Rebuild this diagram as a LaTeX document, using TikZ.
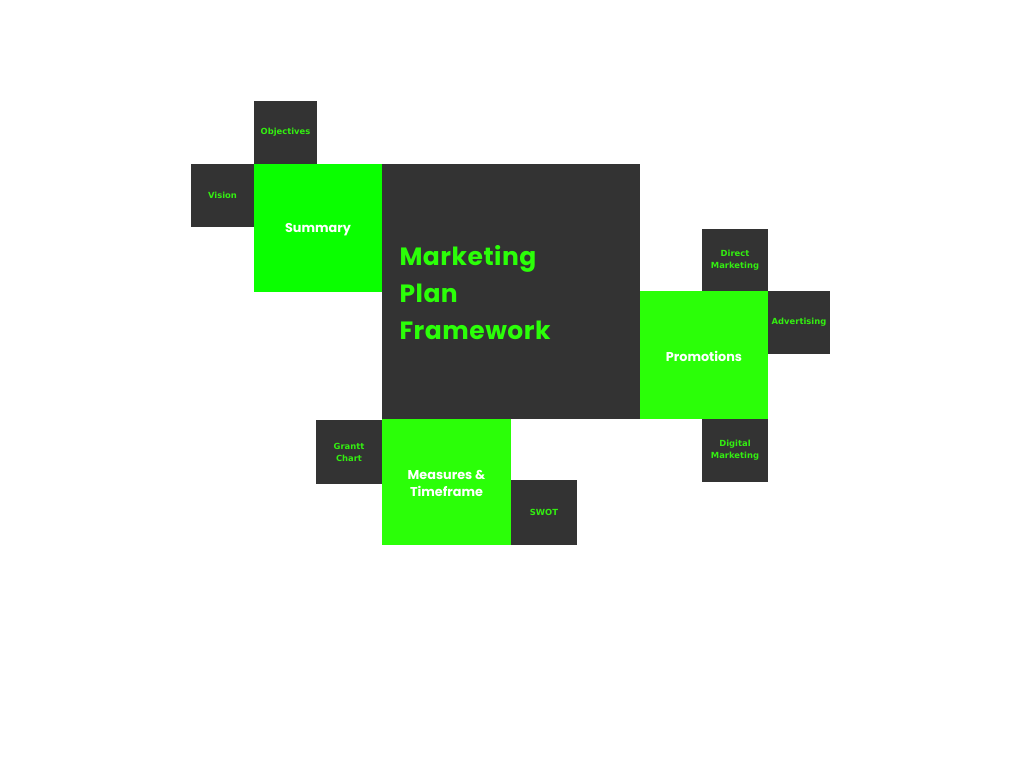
\documentclass[tikz,border=0pt]{standalone}
\usepackage{fontspec}
\setmainfont{Poppins}
\newfontfamily\lblfont{DejaVu Sans}
\newfontfamily\titlefont[LetterSpace=2]{Poppins}
\definecolor{dark}{HTML}{333333}
\definecolor{gA}{HTML}{0AFF00}
\definecolor{gB}{HTML}{2BFF08}
\definecolor{gtxt}{HTML}{33EE11}
\tikzset{
  box/.style={inner sep=0pt, outer sep=0pt, anchor=north west},
  darkbox/.style={box, fill=dark},
  greenbox/.style={box, fill=gB},
  smalltxt/.style={text=gtxt, font=\lblfont\bfseries\fontsize{8.4}{12}\selectfont, align=center},
  midtxt/.style={text=white, font=\bfseries\fontsize{12.8}{17.5}\selectfont, align=center, yshift=-1.5pt},
}
\begin{document}
\begin{tikzpicture}[x=1pt,y=-1pt]
\useasboundingbox (0,0) rectangle (1024,768);
% central
\node[darkbox, minimum width=258pt, minimum height=255pt] (main) at (382,164) {};
\node[anchor=west, text=gB, align=left, font=\titlefont\bfseries\fontsize{25}{37}\selectfont] (title) at (396,293) {Marketing\\Plan\\Framework};
% summary
\node[box, fill=gA, minimum width=128pt, minimum height=128pt] (sum) at (254,164) {};
\node[midtxt] (sumt) at (sum.center) {Summary};
\node[darkbox, minimum width=63pt, minimum height=63pt] (obj) at (254,101) {};
\node[smalltxt] at (obj.center) {Objectives};
\node[darkbox, minimum width=63pt, minimum height=63pt] (vis) at (191,164) {};
\node[smalltxt] at (vis.center) {Vision};
% promotions
\node[greenbox, minimum width=128pt, minimum height=128pt] (pro) at (640,291) {};
\node[midtxt] at (pro.center) {Promotions};
\node[darkbox, minimum width=66pt, minimum height=62pt] (dm) at (702,229) {};
\node[smalltxt] at (dm.center) {Direct\\Marketing};
\node[darkbox, minimum width=62pt, minimum height=63pt] (adv) at (768,291) {};
\node[smalltxt] at (adv.center) {Advertising};
\node[darkbox, minimum width=66pt, minimum height=63pt] (dig) at (702,419) {};
\node[smalltxt] at (dig.center) {Digital\\Marketing};
% measures
\node[greenbox, minimum width=129pt, minimum height=126pt] (mea) at (382,419) {};
\node[midtxt] at (mea.center) {Measures \&\\Timeframe};
\node[darkbox, minimum width=66pt, minimum height=64pt] (gc) at (316,420) {};
\node[smalltxt] at (gc.center) {Grantt\\Chart};
\node[darkbox, minimum width=66pt, minimum height=65pt] (swot) at (511,480) {};
\node[smalltxt] at (swot.center) {SWOT};
\end{tikzpicture}
\end{document}
